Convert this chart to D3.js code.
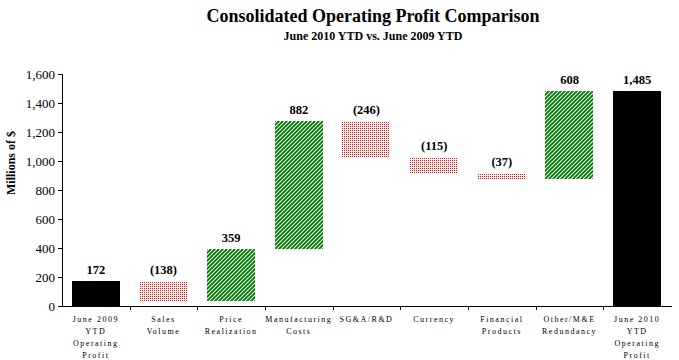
<!DOCTYPE html>
<html>
<head>
<meta charset="utf-8">
<script src="https://cdn.jsdelivr.net/npm/d3@7"></script>
<style>
  html, body { margin: 0; padding: 0; background: #fff; }
  svg { display: block; }
</style>
</head>
<body>
<svg id="chart" width="679" height="360"></svg>
<script>
// ---- Data ----
const categories = [
  ["June 2009", "YTD", "Operating", "Profit"],
  ["Sales", "Volume"],
  ["Price", "Realization"],
  ["Manufacturing", "Costs"],
  ["SG&A/R&D"],
  ["Currency"],
  ["Financial", "Products"],
  ["Other/M&E", "Redundancy"],
  ["June 2010", "YTD", "Operating", "Profit"]
];
const values = [172, -138, 359, 882, -246, -115, -37, 608, 1485];
const kinds = ["total", "delta", "delta", "delta", "delta", "delta", "delta", "delta", "total"];
const valueLabels = ["172", "(138)", "359", "882", "(246)", "(115)", "(37)", "608", "1,485"];
const yTicks = [0, 200, 400, 600, 800, 1000, 1200, 1400, 1600];
const title = "Consolidated Operating Profit Comparison";
const subtitle = "June 2010 YTD vs. June 2009 YTD";
const yTitle = "Millions of $";

// ---- Build waterfall segments ----
let running = 0;
const segs = values.map((v, i) => {
  let lo, hi;
  if (kinds[i] === "total") { lo = 0; hi = v; running = v; }
  else { const start = running; running = start + v; lo = Math.min(start, running); hi = Math.max(start, running); }
  return { i, v, lo, hi, kind: kinds[i], label: valueLabels[i] };
});

const svg = d3.select("#chart");
const serif = "'Liberation Serif', 'Times New Roman', serif";

const x = d3.scaleBand().domain(d3.range(categories.length)).range([62, 671]).paddingInner(0.29).paddingOuter(0.145);
const y = d3.scaleLinear().domain([0, 1600]).range([306, 74]);

// patterns
const defs = svg.append("defs");
const pg = defs.append("pattern").attr("id", "green").attr("patternUnits", "userSpaceOnUse")
  .attr("width", 4).attr("height", 4);
pg.append("rect").attr("width", 4).attr("height", 4).attr("fill", "#fff");
pg.append("path").attr("d", "M-1,1 L1,-1 M0,4 L4,0 M3,5 L5,3").attr("stroke", "#007a00").attr("stroke-width", 1.9);
const pr = defs.append("pattern").attr("id", "red").attr("patternUnits", "userSpaceOnUse")
  .attr("width", 2).attr("height", 2);
pr.append("rect").attr("width", 2).attr("height", 2).attr("fill", "#fff");
pr.append("rect").attr("width", 1).attr("height", 1).attr("fill", "#ff0000");

// title
svg.append("text").attr("x", 373).attr("y", 22).attr("text-anchor", "middle")
  .attr("font-family", serif).attr("font-weight", "bold").attr("font-size", 18).text(title);
svg.append("text").attr("x", 373).attr("y", 40).attr("text-anchor", "middle")
  .attr("font-family", serif).attr("font-weight", "bold").attr("font-size", 12).text(subtitle);

// y axis
const yAxis = d3.axisLeft(y).tickValues(yTicks).tickSize(4).tickFormat(d3.format(","));
const gy = svg.append("g").attr("transform", "translate(62,0)").call(yAxis);
gy.selectAll("text").attr("font-family", serif).attr("font-size", 13).attr("fill", "#000").attr("x", -7);
gy.selectAll("line").attr("stroke", "#000");
gy.select(".domain").attr("stroke", "#000").attr("d", "M0.5,74V306.5");

// x axis line + ticks at band boundaries
const step = x.step();
const gx = svg.append("g");
gx.append("line").attr("x1", 58).attr("x2", 672).attr("y1", 306.5).attr("y2", 306.5).attr("stroke", "#000");
d3.range(1, categories.length).forEach(k => {
  const bx = Math.round(62 + k * step) + 0.5;
  gx.append("line").attr("x1", bx).attr("x2", bx).attr("y1", 306).attr("y2", 310).attr("stroke", "#000");
});

// bars
svg.append("g").selectAll("rect").data(segs).join("rect")
  .attr("x", d => Math.round(x(d.i)))
  .attr("width", Math.round(x.bandwidth()))
  .attr("y", d => Math.round(y(d.hi)))
  .attr("height", d => Math.round(y(d.lo)) - Math.round(y(d.hi)))
  .attr("shape-rendering", "crispEdges")
  .attr("fill", d => d.kind === "total" ? "#000" : (d.v >= 0 ? "url(#green)" : "url(#red)"));

// value labels
svg.append("g").selectAll("text").data(segs).join("text")
  .attr("x", d => x(d.i) + x.bandwidth() / 2)
  .attr("y", d => y(d.hi) - 7)
  .attr("text-anchor", "middle")
  .attr("font-family", serif).attr("font-weight", "bold").attr("font-size", 12.5)
  .text(d => d.label);

// category labels
const cl = svg.append("g");
categories.forEach((lines, i) => {
  const t = cl.append("text").attr("x", x(i) + x.bandwidth() / 2).attr("y", 322)
    .attr("text-anchor", "middle").attr("font-family", serif).attr("font-size", 8)
    .attr("letter-spacing", 1.5).attr("fill", "#000");
  lines.forEach((ln, j) => {
    t.append("tspan").attr("x", x(i) + x.bandwidth() / 2).attr("y", 322 + j * 12).text(ln);
  });
});

// y title
svg.append("text").attr("transform", "translate(15,163) rotate(-90)")
  .attr("text-anchor", "middle").attr("font-family", serif).attr("font-weight", "bold")
  .attr("font-size", 12).text(yTitle);
</script>
</body>
</html>
